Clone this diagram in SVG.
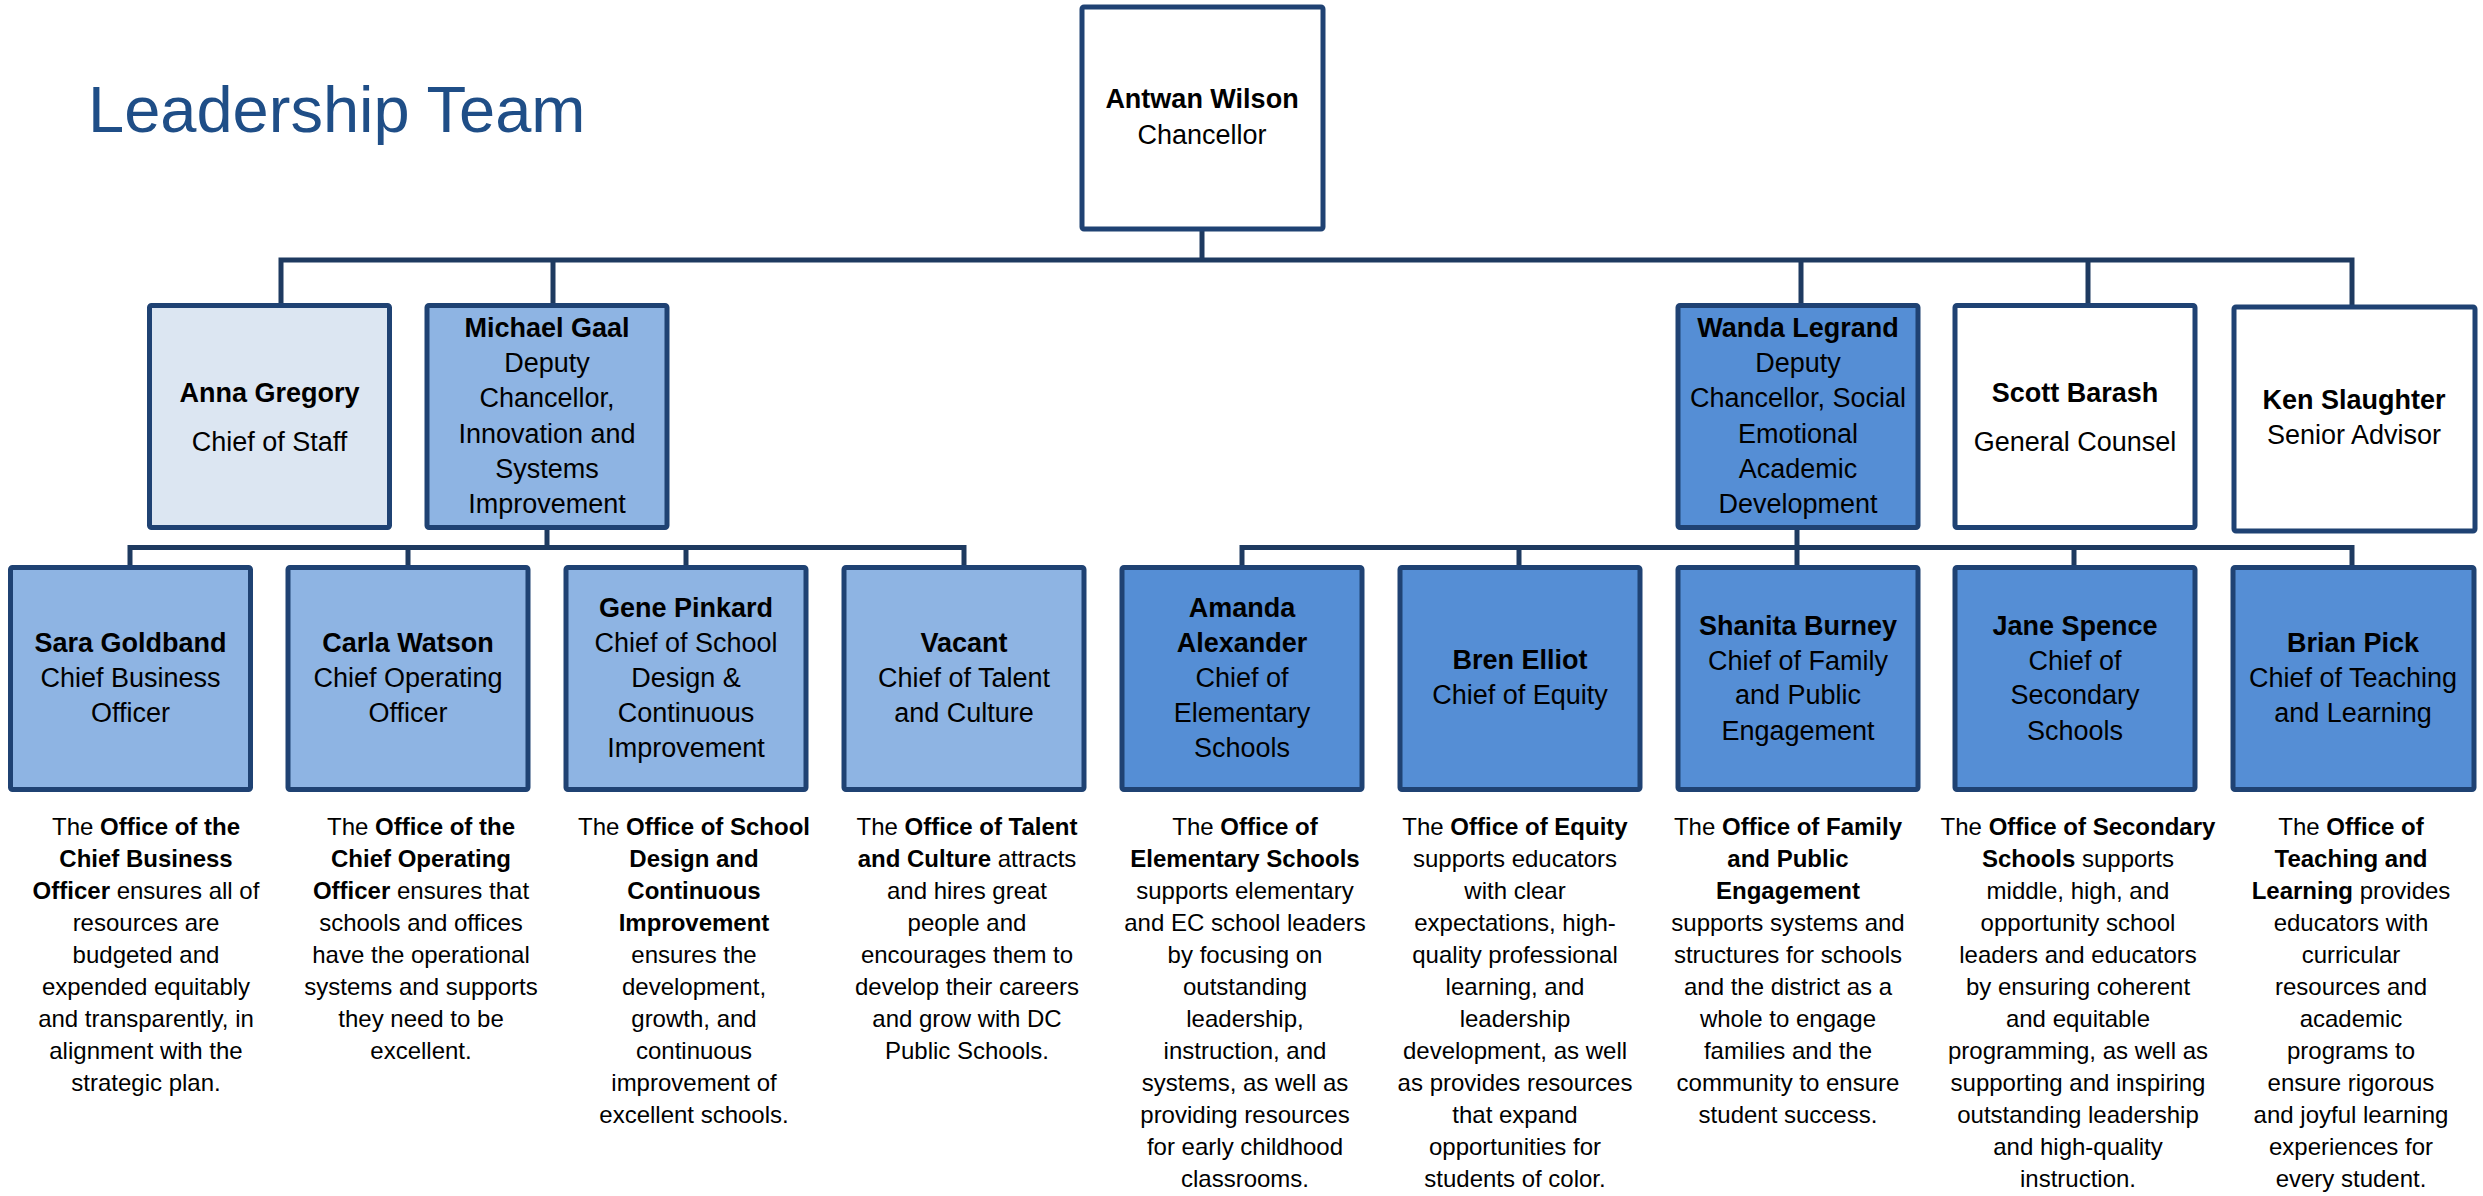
<svg xmlns="http://www.w3.org/2000/svg" width="2483" height="1196" viewBox="0 0 2483 1196">
<style>
.t{font-family:'Liberation Sans',Arial,sans-serif;text-anchor:middle;fill:#000}
.l{font-size:27px}
.d{font-size:24px}
.b{font-weight:700}
.box{stroke:#1F4273;stroke-width:5}
.w{fill:#FFFFFF}
.pale{fill:#DCE6F2}
.mid{fill:#8EB4E3}
.dark{fill:#558ED5}
.conn{stroke:#1E3A60;stroke-width:5;fill:none;stroke-linecap:square}
.title{font-family:'Liberation Sans',Arial,sans-serif;font-size:65px;fill:#1F4E87}
</style>
<rect width="2483" height="1196" fill="#FFFFFF"/>
<text class="title" x="88" y="132">Leadership Team</text>

<g id="connectors">
<path class="conn" d="M1202 231V260M281 260H2352M281 260V303M553 260V303M1801 260V303M2088 260V303M2352 260V305"/>
<path class="conn" d="M547 530V547.5M130 547.5H964M130 547.5V565M408 547.5V565M686 547.5V565M964 547.5V565"/>
<path class="conn" d="M1797 530V547.5M1242 547.5H2352M1242 547.5V565M1519 547.5V565M1797 547.5V565M2074 547.5V565M2352 547.5V565"/>
</g>

<g id="antwan">
<rect class="box w" x="1082" y="7" width="241" height="222" rx="2"/>
<text class="t l"><tspan class="b" x="1202" y="108">Antwan Wilson</tspan><tspan x="1202" y="144">Chancellor</tspan></text>
</g>

<g id="anna">
<rect class="box pale" x="149.5" y="305.5" width="240" height="222" rx="2"/>
<text class="t l"><tspan class="b" x="269.5" y="402">Anna Gregory</tspan><tspan x="269.5" y="451">Chief of Staff</tspan></text>
</g>
<g id="michael">
<rect class="box mid" x="427" y="305.5" width="240" height="222" rx="2"/>
<text class="t l"><tspan class="b" x="547" y="337">Michael Gaal</tspan><tspan x="547" y="372">Deputy</tspan><tspan x="547" y="407">Chancellor,</tspan><tspan x="547" y="443">Innovation and</tspan><tspan x="547" y="478">Systems</tspan><tspan x="547" y="513">Improvement</tspan></text>
</g>
<g id="wanda">
<rect class="box dark" x="1678" y="305.5" width="240" height="222" rx="2"/>
<text class="t l"><tspan class="b" x="1798" y="337">Wanda Legrand</tspan><tspan x="1798" y="372">Deputy</tspan><tspan x="1798" y="407">Chancellor, Social</tspan><tspan x="1798" y="443">Emotional</tspan><tspan x="1798" y="478">Academic</tspan><tspan x="1798" y="513">Development</tspan></text>
</g>
<g id="scott">
<rect class="box w" x="1955" y="305.5" width="240" height="222" rx="2"/>
<text class="t l"><tspan class="b" x="2075" y="402">Scott Barash</tspan><tspan x="2075" y="451">General Counsel</tspan></text>
</g>
<g id="ken">
<rect class="box w" x="2234" y="307" width="241" height="224" rx="2"/>
<text class="t l"><tspan class="b" x="2354" y="409">Ken Slaughter</tspan><tspan x="2354" y="444">Senior Advisor</tspan></text>
</g>

<g id="sara">
<rect class="box mid" x="10.5" y="567.5" width="240" height="222" rx="2"/>
<text class="t l"><tspan class="b" x="130.5" y="652">Sara Goldband</tspan><tspan x="130.5" y="687">Chief Business</tspan><tspan x="130.5" y="722">Officer</tspan></text>
<text class="t d"><tspan x="146" y="835">The <tspan class="b">Office of the</tspan></tspan><tspan class="b" x="146" y="867">Chief Business</tspan><tspan x="146" y="899"><tspan class="b">Officer</tspan> ensures all of</tspan><tspan x="146" y="931">resources are</tspan><tspan x="146" y="963">budgeted and</tspan><tspan x="146" y="995">expended equitably</tspan><tspan x="146" y="1027">and transparently, in</tspan><tspan x="146" y="1059">alignment with the</tspan><tspan x="146" y="1091">strategic plan.</tspan></text>
</g>
<g id="carla">
<rect class="box mid" x="288" y="567.5" width="240" height="222" rx="2"/>
<text class="t l"><tspan class="b" x="408" y="652">Carla Watson</tspan><tspan x="408" y="687">Chief Operating</tspan><tspan x="408" y="722">Officer</tspan></text>
<text class="t d"><tspan x="421" y="835">The <tspan class="b">Office of the</tspan></tspan><tspan class="b" x="421" y="867">Chief Operating</tspan><tspan x="421" y="899"><tspan class="b">Officer</tspan> ensures that</tspan><tspan x="421" y="931">schools and offices</tspan><tspan x="421" y="963">have the operational</tspan><tspan x="421" y="995">systems and supports</tspan><tspan x="421" y="1027">they need to be</tspan><tspan x="421" y="1059">excellent.</tspan></text>
</g>
<g id="gene">
<rect class="box mid" x="566" y="567.5" width="240" height="222" rx="2"/>
<text class="t l"><tspan class="b" x="686" y="617">Gene Pinkard</tspan><tspan x="686" y="652">Chief of School</tspan><tspan x="686" y="687">Design &amp;</tspan><tspan x="686" y="722">Continuous</tspan><tspan x="686" y="757">Improvement</tspan></text>
<text class="t d"><tspan x="694" y="835">The <tspan class="b">Office of School</tspan></tspan><tspan class="b" x="694" y="867">Design and</tspan><tspan class="b" x="694" y="899">Continuous</tspan><tspan class="b" x="694" y="931">Improvement</tspan><tspan x="694" y="963">ensures the</tspan><tspan x="694" y="995">development,</tspan><tspan x="694" y="1027">growth, and</tspan><tspan x="694" y="1059">continuous</tspan><tspan x="694" y="1091">improvement of</tspan><tspan x="694" y="1123">excellent schools.</tspan></text>
</g>
<g id="vacant">
<rect class="box mid" x="844" y="567.5" width="240" height="222" rx="2"/>
<text class="t l"><tspan class="b" x="964" y="652">Vacant</tspan><tspan x="964" y="687">Chief of Talent</tspan><tspan x="964" y="722">and Culture</tspan></text>
<text class="t d"><tspan x="967" y="835">The <tspan class="b">Office of Talent</tspan></tspan><tspan x="967" y="867"><tspan class="b">and Culture</tspan> attracts</tspan><tspan x="967" y="899">and hires great</tspan><tspan x="967" y="931">people and</tspan><tspan x="967" y="963">encourages them to</tspan><tspan x="967" y="995">develop their careers</tspan><tspan x="967" y="1027">and grow with DC</tspan><tspan x="967" y="1059">Public Schools.</tspan></text>
</g>
<g id="amanda">
<rect class="box dark" x="1122" y="567.5" width="240" height="222" rx="2"/>
<text class="t l"><tspan class="b" x="1242" y="617">Amanda</tspan><tspan class="b" x="1242" y="652">Alexander</tspan><tspan x="1242" y="687">Chief of</tspan><tspan x="1242" y="722">Elementary</tspan><tspan x="1242" y="757">Schools</tspan></text>
<text class="t d"><tspan x="1245" y="835">The <tspan class="b">Office of</tspan></tspan><tspan class="b" x="1245" y="867">Elementary Schools</tspan><tspan x="1245" y="899">supports elementary</tspan><tspan x="1245" y="931">and EC school leaders</tspan><tspan x="1245" y="963">by focusing on</tspan><tspan x="1245" y="995">outstanding</tspan><tspan x="1245" y="1027">leadership,</tspan><tspan x="1245" y="1059">instruction, and</tspan><tspan x="1245" y="1091">systems, as well as</tspan><tspan x="1245" y="1123">providing resources</tspan><tspan x="1245" y="1155">for early childhood</tspan><tspan x="1245" y="1187">classrooms.</tspan></text>
</g>
<g id="bren">
<rect class="box dark" x="1400" y="567.5" width="240" height="222" rx="2"/>
<text class="t l"><tspan class="b" x="1520" y="669">Bren Elliot</tspan><tspan x="1520" y="704">Chief of Equity</tspan></text>
<text class="t d"><tspan x="1515" y="835">The <tspan class="b">Office of Equity</tspan></tspan><tspan x="1515" y="867">supports educators</tspan><tspan x="1515" y="899">with clear</tspan><tspan x="1515" y="931">expectations, high-</tspan><tspan x="1515" y="963">quality professional</tspan><tspan x="1515" y="995">learning, and</tspan><tspan x="1515" y="1027">leadership</tspan><tspan x="1515" y="1059">development, as well</tspan><tspan x="1515" y="1091">as provides resources</tspan><tspan x="1515" y="1123">that expand</tspan><tspan x="1515" y="1155">opportunities for</tspan><tspan x="1515" y="1187">students of color.</tspan></text>
</g>
<g id="shanita">
<rect class="box dark" x="1678" y="567.5" width="240" height="222" rx="2"/>
<text class="t l"><tspan class="b" x="1798" y="635">Shanita Burney</tspan><tspan x="1798" y="670">Chief of Family</tspan><tspan x="1798" y="704">and Public</tspan><tspan x="1798" y="740">Engagement</tspan></text>
<text class="t d"><tspan x="1788" y="835">The <tspan class="b">Office of Family</tspan></tspan><tspan class="b" x="1788" y="867">and Public</tspan><tspan class="b" x="1788" y="899">Engagement</tspan><tspan x="1788" y="931">supports systems and</tspan><tspan x="1788" y="963">structures for schools</tspan><tspan x="1788" y="995">and the district as a</tspan><tspan x="1788" y="1027">whole to engage</tspan><tspan x="1788" y="1059">families and the</tspan><tspan x="1788" y="1091">community to ensure</tspan><tspan x="1788" y="1123">student success.</tspan></text>
</g>
<g id="jane">
<rect class="box dark" x="1955" y="567.5" width="240" height="222" rx="2"/>
<text class="t l"><tspan class="b" x="2075" y="635">Jane Spence</tspan><tspan x="2075" y="670">Chief of</tspan><tspan x="2075" y="704">Secondary</tspan><tspan x="2075" y="740">Schools</tspan></text>
<text class="t d"><tspan x="2078" y="835">The <tspan class="b">Office of Secondary</tspan></tspan><tspan x="2078" y="867"><tspan class="b">Schools</tspan> supports</tspan><tspan x="2078" y="899">middle, high, and</tspan><tspan x="2078" y="931">opportunity school</tspan><tspan x="2078" y="963">leaders and educators</tspan><tspan x="2078" y="995">by ensuring coherent</tspan><tspan x="2078" y="1027">and equitable</tspan><tspan x="2078" y="1059">programming, as well as</tspan><tspan x="2078" y="1091">supporting and inspiring</tspan><tspan x="2078" y="1123">outstanding leadership</tspan><tspan x="2078" y="1155">and high-quality</tspan><tspan x="2078" y="1187">instruction.</tspan></text>
</g>
<g id="brian">
<rect class="box dark" x="2233" y="567.5" width="241" height="222" rx="2"/>
<text class="t l"><tspan class="b" x="2353" y="652">Brian Pick</tspan><tspan x="2353" y="687">Chief of Teaching</tspan><tspan x="2353" y="722">and Learning</tspan></text>
<text class="t d"><tspan x="2351" y="835">The <tspan class="b">Office of</tspan></tspan><tspan class="b" x="2351" y="867">Teaching and</tspan><tspan x="2351" y="899"><tspan class="b">Learning</tspan> provides</tspan><tspan x="2351" y="931">educators with</tspan><tspan x="2351" y="963">curricular</tspan><tspan x="2351" y="995">resources and</tspan><tspan x="2351" y="1027">academic</tspan><tspan x="2351" y="1059">programs to</tspan><tspan x="2351" y="1091">ensure rigorous</tspan><tspan x="2351" y="1123">and joyful learning</tspan><tspan x="2351" y="1155">experiences for</tspan><tspan x="2351" y="1187">every student.</tspan></text>
</g>
</svg>
